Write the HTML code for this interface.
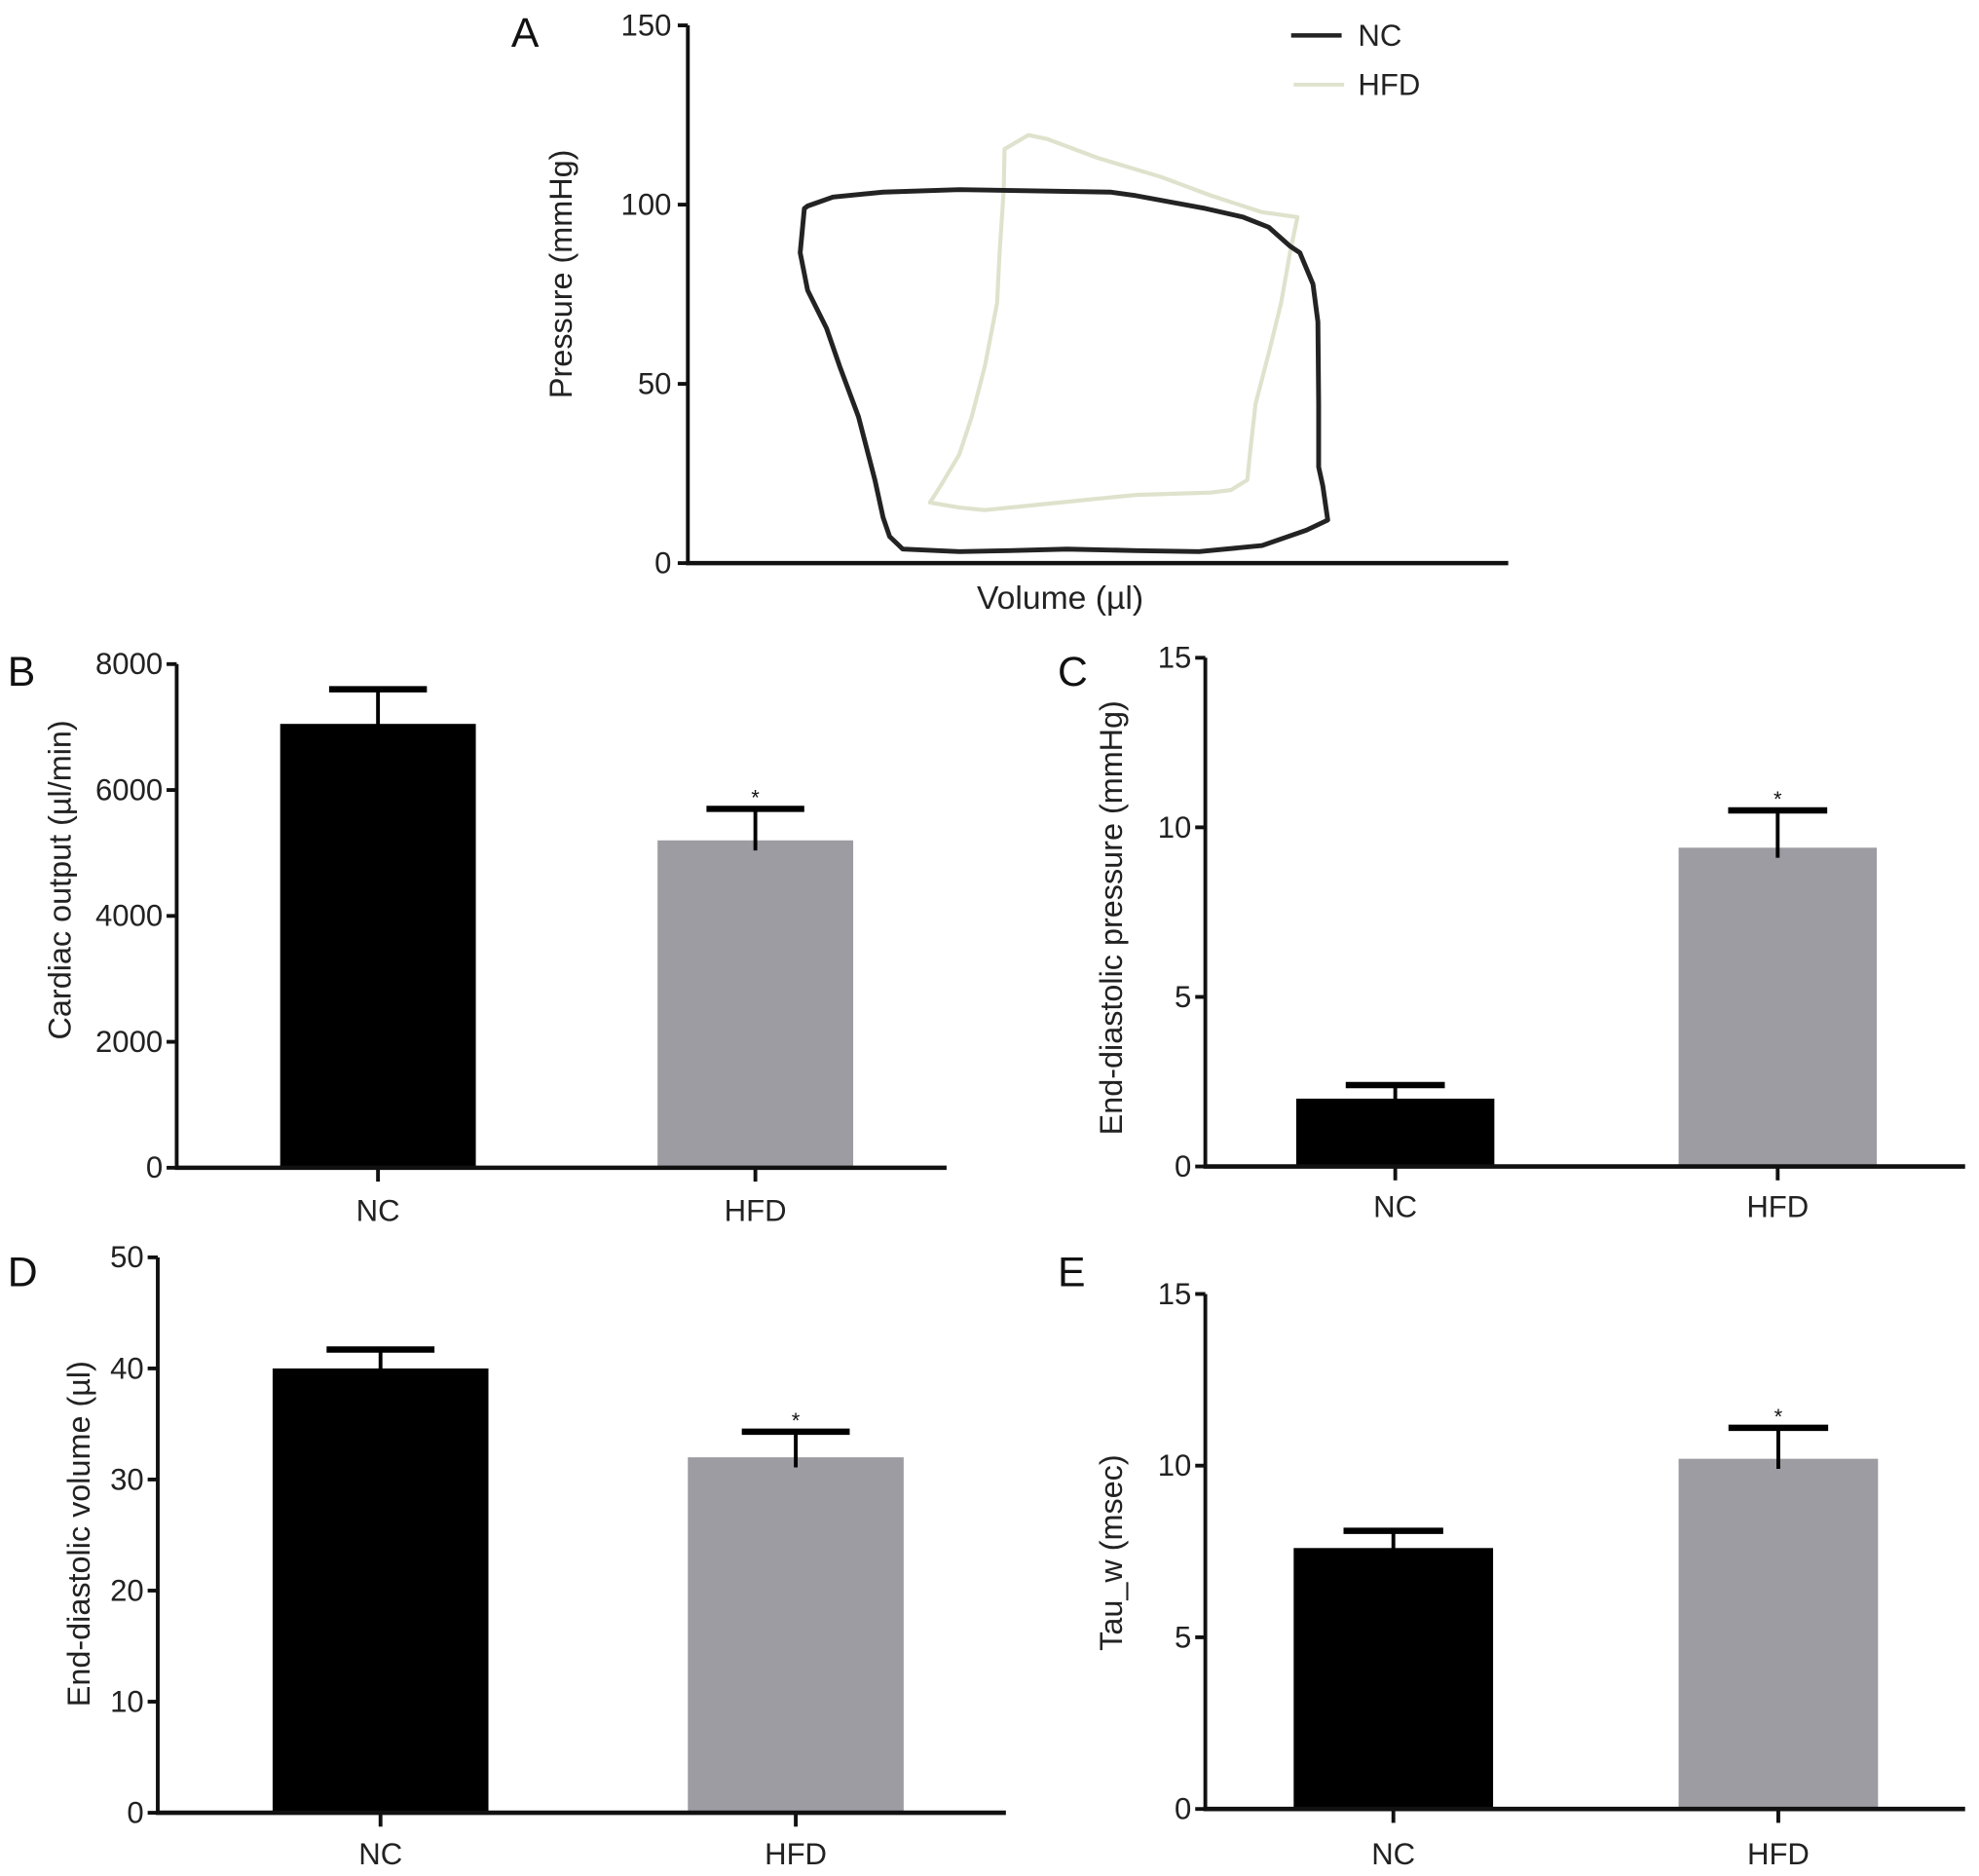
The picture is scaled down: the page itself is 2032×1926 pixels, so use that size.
<!DOCTYPE html>
<html><head><meta charset="utf-8"><style>
html,body{margin:0;padding:0;background:#fff;}
svg{display:block;font-family:"Liberation Sans",Arial,sans-serif;}
</style></head><body>
<svg id="fig" width="2032" height="1926" viewBox="0 0 1568 1486" xmlns="http://www.w3.org/2000/svg">
<g id="panelA"></g>
<g id="panelB"></g>
<g id="panelC"></g>
<g id="panelD"></g>
<g id="panelE"></g>
</svg>
<script>
// Panel A data (volume arbitrary units 0-100, pressure mmHg)
const pvTicks = [0, 50, 100, 150];
const ncVol = [14.2,13.7,14.6,16.9,18.5,20.8,22.8,23.8,24.6,26.2,33.1,39.2,46.2,54.6,62.3,70,75.4,78,77.4,76.9,76.9,76.8,76.2,74.6,73.4,70.8,67.7,63.1,54.6,51.5,33.1,23.8,17.7,14.6];
const ncPress = [98.9,86.6,76.1,65.5,54.9,40.8,23.2,12.7,7.4,3.9,3.2,3.5,3.9,3.5,3.2,4.9,9.2,12,21.5,26.8,44.4,67.3,77.8,86.6,88.4,93.7,96.5,98.9,102.5,103.5,104.2,103.5,102.1,99.6];
const hfdVol = [38.6,41.5,43.8,50,57.7,63.8,70,74.3,73.4,72.3,70.8,69.2,68.5,68.2,66.2,63.8,54.6,50,42.3,36.2,33.1,29.5,30.8,33.1,34.6,36.2,37.7,38,38.5,38.6];
const hfdPress = [115.5,119.4,118.3,113,107.7,102.5,97.9,96.5,86.6,72.5,58.5,44.4,30.3,23.2,20.4,19.7,19,18,16.2,14.8,15.5,16.9,21.5,30.3,40.8,54.9,72.5,86.6,104.2,115.5];

// Bar panels
const categories = ["NC", "HFD"];
const coMeans = [7050, 5200];
const coErr = [550, 500];
const coTicks = [0, 2000, 4000, 6000, 8000];
const edpMeans = [2.0, 9.4];
const edpErr = [0.4, 1.1];
const edpTicks = [0, 5, 10, 15];
const edvMeans = [40, 32];
const edvErr = [1.7, 2.3];
const edvTicks = [0, 10, 20, 30, 40, 50];
const tauMeans = [7.6, 10.2];
const tauErr = [0.5, 0.9];
const tauTicks = [0, 5, 10, 15];
const sigFlags = [false, true];

const NS = "http://www.w3.org/2000/svg";
function mk(parent, tag, attrs, text){
  const e = document.createElementNS(NS, tag);
  for (const k in attrs) e.setAttribute(k, attrs[k]);
  if (text !== undefined) e.textContent = text;
  parent.appendChild(e);
  return e;
}

// ---- Panel A ----
(function(){
  const g = document.getElementById('panelA');
  const x0 = 545, x1 = 1195, yTop = 20, yBot = 446;
  const vx = v => x0 + v * 6.5;
  const py = p => yBot - (p / 150) * (yBot - yTop);
  let t = mk(g,'text',{x:405,y:37,'font-size':33,fill:'#111'},'A');
   
  let l = mk(g,'line',{x1:x0,y1:yTop,x2:x0,y2:yBot,stroke:'#111','stroke-width':3});
   
  l = mk(g,'line',{x1:x0-1.5,y1:yBot,x2:x1,y2:yBot,stroke:'#111','stroke-width':3.5});
   
  pvTicks.forEach(v=>{
    const tk = mk(g,'line',{x1:x0-8,y1:py(v),x2:x0,y2:py(v),stroke:'#111','stroke-width':3});
     
    const tl = mk(g,'text',{x:x0-13,y:py(v)+8,'font-size':24,'text-anchor':'end',fill:'#222'},String(v));
     
  });
  t = mk(g,'text',{x:0,y:0,'font-size':25,'text-anchor':'middle',fill:'#222',transform:'translate(453,217) rotate(-90)'},'Pressure (mmHg)');
   
  t = mk(g,'text',{x:840,y:482,'font-size':26,'text-anchor':'middle',fill:'#222'},'Volume (µl)');
   
  const path = (vs, ps) => vs.map((v,i)=>(i?'L':'M')+vx(v).toFixed(1)+' '+py(ps[i]).toFixed(1)).join(' ')+' Z';
  let p = mk(g,'path',{d:path(hfdVol,hfdPress),fill:'none',stroke:'#dfe2cc','stroke-width':3.2,'stroke-linejoin':'round'});
   
  p = mk(g,'path',{d:path(ncVol,ncPress),fill:'none',stroke:'#232323','stroke-width':3.8,'stroke-linejoin':'round'});
   
  l = mk(g,'line',{x1:1023,y1:28,x2:1063,y2:28,stroke:'#232323','stroke-width':3.5});
   
  t = mk(g,'text',{x:1076,y:36,'font-size':24,fill:'#222'},'NC');
   
  l = mk(g,'line',{x1:1025,y1:67,x2:1065,y2:67,stroke:'#dfe2cc','stroke-width':3});
   
  t = mk(g,'text',{x:1076,y:75,'font-size':24,fill:'#222'},'HFD');
   
})();

// ---- Bar panels ----
function barPanel(id, cfg, means, errs, ticks){
  const g = document.getElementById(id);
  const {ax, yTop, yBot, xEnd, barL, barW, max, letter, lx, ly, title, tx, ty, catY} = cfg;
  const sy = v => yBot - (v / max) * (yBot - yTop);
  let t = mk(g,'text',{x:lx,y:ly,'font-size':33,fill:'#111'},letter);
   
  means.forEach((m,i)=>{
    const x = barL[i], cx = x + barW/2;
    const r = mk(g,'rect',{x:x,y:sy(m),width:barW,height:yBot-sy(m),fill:i===0?'#000':'#9d9ca3'});
     
    const top = sy(m + errs[i]);
    const s = mk(g,'line',{x1:cx,y1:top,x2:cx,y2:sy(m)+8,stroke:'#000','stroke-width':3});
     
    const c = mk(g,'line',{x1:cx-barW*0.25,y1:top,x2:cx+barW*0.25,y2:top,stroke:'#000','stroke-width':5});
     
    if (sigFlags[i]) {
      const st = mk(g,'text',{x:cx,y:top-3,'font-size':17,'text-anchor':'middle',fill:'#111'},'*');
       
    }
    const tk = mk(g,'line',{x1:cx,y1:yBot,x2:cx,y2:yBot+11,stroke:'#111','stroke-width':3});
     
    const cl = mk(g,'text',{x:cx,y:catY,'font-size':24,'text-anchor':'middle',fill:'#222'},categories[i]);
     
  });
  let l = mk(g,'line',{x1:ax,y1:yTop,x2:ax,y2:yBot,stroke:'#111','stroke-width':3});
   
  l = mk(g,'line',{x1:ax-1.5,y1:yBot,x2:xEnd,y2:yBot,stroke:'#111','stroke-width':3.5});
   
  ticks.forEach(v=>{
    const tk = mk(g,'line',{x1:ax-8,y1:sy(v),x2:ax,y2:sy(v),stroke:'#111','stroke-width':3});
     
    const tl = mk(g,'text',{x:ax-11,y:sy(v)+8,'font-size':24,'text-anchor':'end',fill:'#222'},String(v));
     
  });
  t = mk(g,'text',{x:0,y:0,'font-size':25,'text-anchor':'middle',fill:'#222',transform:'translate('+tx+','+ty+') rotate(-90)'},title);
   
}
barPanel('panelB',{ax:140,yTop:526,yBot:925,xEnd:750,barL:[222,521],barW:155,max:8000,letter:'B',lx:6,ly:543,title:'Cardiac output (µl/min)',tx:56,ty:697,catY:967},coMeans,coErr,coTicks);
barPanel('panelC',{ax:955,yTop:521,yBot:924,xEnd:1557,barL:[1027,1330],barW:157,max:15,letter:'C',lx:838,ly:543,title:'End-diastolic pressure (mmHg)',tx:889,ty:727,catY:964},edpMeans,edpErr,edpTicks);
barPanel('panelD',{ax:125,yTop:996,yBot:1436,xEnd:797,barL:[216,545],barW:171,max:50,letter:'D',lx:6,ly:1019,title:'End-diastolic volume (µl)',tx:71,ty:1215,catY:1477},edvMeans,edvErr,edvTicks);
barPanel('panelE',{ax:955,yTop:1025,yBot:1433,xEnd:1557,barL:[1025,1330],barW:158,max:15,letter:'E',lx:838,ly:1019,title:'Tau_w (msec)',tx:889,ty:1230,catY:1477},tauMeans,tauErr,tauTicks);
</script>
</body></html>
